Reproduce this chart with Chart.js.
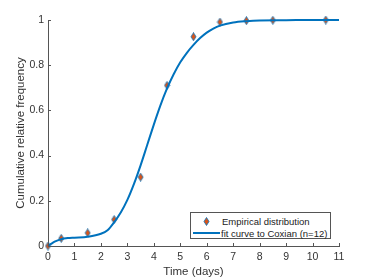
<!DOCTYPE html>
<html>
<head>
<meta charset="utf-8">
<script src="https://cdn.jsdelivr.net/npm/chart.js@4"></script>
<style>
  body { margin: 0; background: #fff; }
  #wrap { position: relative; width: 374px; height: 280px; }
  #legend {
    position: absolute; left: 190px; top: 212px; width: 139px; height: 25px;
    border: 1px solid #555; background: #fff;
    font-family: 'Liberation Sans', Arial, sans-serif; font-size: 9.5px; color: #222;
  }
  #legend .txt { position: absolute; white-space: nowrap; line-height: 11px; }
  #legend svg { position: absolute; }
</style>
</head>
<body>
<div id="wrap">
  <canvas id="chart" width="374" height="280"></canvas>
  <div id="legend">
    <svg style="left:12px;top:4px" width="7" height="9"><polygon points="3.5,0.5 6,4.5 3.5,8.5 1,4.5" fill="#D95319" stroke="#0072BD" stroke-width="0.8"/></svg>
    <span class="txt" style="left:31px;top:3px">Empirical distribution</span>
    <svg style="left:2px;top:18px" width="28" height="4"><line x1="0" y1="2" x2="27" y2="2" stroke="#0072BD" stroke-width="2"/></svg>
    <span class="txt" style="left:30px;top:15px">fit curve to Coxian (n=12)</span>
  </div>
</div>
<script>
const empX = [0, 0.5, 1.5, 2.5, 3.5, 4.5, 5.5, 6.5, 7.5, 8.5, 10.5];
const empY = [0, 0.034, 0.058, 0.117, 0.305, 0.711, 0.926, 0.991, 0.997, 0.999, 1.0];

const fitX = [0, 0.1, 0.25, 0.5, 0.75, 1, 1.5, 2, 2.25, 2.5, 2.75, 3, 3.25, 3.5, 3.75, 4, 4.25, 4.5, 4.75, 5, 5.25, 5.5, 5.75, 6, 6.25, 6.5, 7, 7.5, 8, 9, 10, 11];
const fitY = [0, 0.008, 0.019, 0.030, 0.035, 0.037, 0.041, 0.054, 0.07, 0.105, 0.148, 0.204, 0.275, 0.357, 0.447, 0.537, 0.622, 0.697, 0.76, 0.813, 0.855, 0.89, 0.92, 0.944, 0.962, 0.975, 0.989, 0.995, 0.998, 0.999, 1, 1];

const xTicks = [0, 1, 2, 3, 4, 5, 6, 7, 8, 9, 10, 11];
const yTicks = [0, 0.2, 0.4, 0.6, 0.8, 1];
const yTickLabels = ['0', '0.2', '0.4', '0.6', '0.8', '1'];

const font = "'Liberation Sans', Arial, sans-serif";
const textColor = '#333';
const axisColor = '#555';

// elongated diamond marker like matlab's 'd'
function diamond() {
  const c = document.createElement('canvas');
  c.width = 7; c.height = 9;
  const g = c.getContext('2d');
  g.beginPath();
  g.moveTo(3.5, 0.5); g.lineTo(6, 4.5); g.lineTo(3.5, 8.5); g.lineTo(1, 4.5); g.closePath();
  g.fillStyle = '#D95319';
  g.fill();
  g.lineWidth = 0.8;
  g.strokeStyle = '#0072BD';
  g.stroke();
  return c;
}

// inward tick marks
const innerTicks = {
  id: 'innerTicks',
  afterDatasetsDraw(chart) {
    const { ctx, scales: { x, y } } = chart;
    ctx.save();
    ctx.strokeStyle = axisColor;
    ctx.lineWidth = 1;
    ctx.beginPath();
    xTicks.forEach(v => {
      const px = Math.round(x.getPixelForValue(v)) + 0.5;
      ctx.moveTo(px, y.bottom);
      ctx.lineTo(px, y.bottom - 3);
    });
    yTicks.forEach(v => {
      const py = Math.round(y.getPixelForValue(v)) + 0.5;
      ctx.moveTo(x.left, py);
      ctx.lineTo(x.left + 3, py);
    });
    ctx.stroke();
    ctx.restore();
  }
};

new Chart(document.getElementById('chart'), {
  type: 'scatter',
  data: {
    datasets: [
      {
        label: 'fit curve to Coxian (n=12)',
        data: fitX.map((v, i) => ({ x: v, y: fitY[i] })),
        showLine: true,
        borderColor: '#0072BD',
        borderWidth: 2,
        pointRadius: 0,
        cubicInterpolationMode: 'monotone',
        order: 0,
        clip: false
      },
      {
        label: 'Empirical distribution',
        data: empX.map((v, i) => ({ x: v, y: empY[i] })),
        pointStyle: diamond(),
        pointRadius: 4,
        order: 1,
        clip: false
      }
    ]
  },
  options: {
    responsive: false,
    animation: false,
    layout: { padding: { left: 0, right: 35, top: 20, bottom: 0 } },
    plugins: { legend: { display: false }, tooltip: { enabled: false } },
    scales: {
      x: {
        type: 'linear', min: 0, max: 11,
        afterBuildTicks: s => { s.ticks = xTicks.map(v => ({ value: v })); },
        afterFit: s => { s.height = 34; },
        grid: { display: false, drawTicks: false },
        border: { display: true, color: axisColor, width: 1 },
        ticks: { font: { family: font, size: 10.5 }, color: textColor, padding: 5, maxRotation: 0 },
        title: { display: true, text: 'Time (days)', color: textColor, font: { family: font, size: 11.5 }, padding: { top: 0, bottom: 1 } }
      },
      y: {
        type: 'linear', min: 0, max: 1,
        afterBuildTicks: s => { s.ticks = yTicks.map(v => ({ value: v })); },
        afterFit: s => { s.width = 48; },
        grid: { display: false, drawTicks: false },
        border: { display: true, color: axisColor, width: 1 },
        ticks: {
          font: { family: font, size: 10.5 }, color: textColor, padding: 4,
          callback: v => yTickLabels[yTicks.indexOf(v)]
        },
        title: { display: true, text: 'Cumulative relative frequency', color: textColor, font: { family: font, size: 11.5 }, padding: { top: 14, bottom: 4 } }
      }
    }
  },
  plugins: [innerTicks]
});
</script>
</body>
</html>
